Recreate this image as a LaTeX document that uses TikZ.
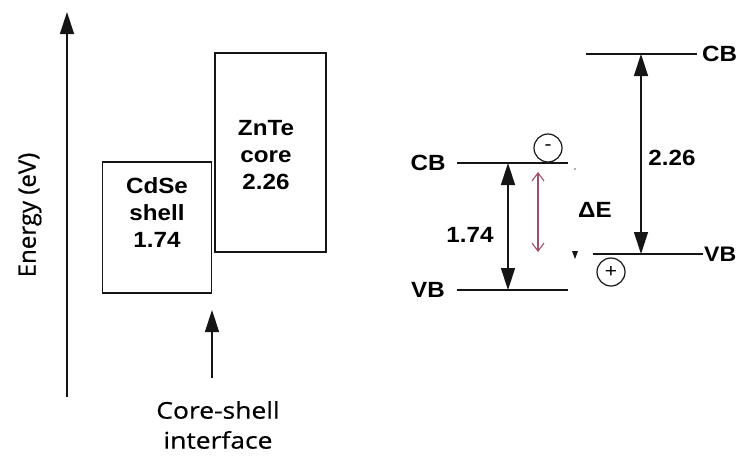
\documentclass[tikz,border=0pt]{standalone}
\usepackage{fontspec}
\setmainfont{Liberation Sans}
\newfontfamily\boldlab[FakeStretch=1.1]{Liberation Sans}
\newfontfamily\softlab[FakeBold=0.6]{Open Sans}
\newfontfamily\softlabwide[FakeStretch=1.15,FakeBold=0.6]{Open Sans}
\usetikzlibrary{arrows.meta,positioning}
\definecolor{Ink}{HTML}{151515}
\definecolor{Rose}{HTML}{A04C6C}

\begin{document}
\begin{tikzpicture}[x=1pt,y=-1pt,
  band/.style={draw=Ink,line width=1.3pt,inner sep=0pt},
  lab/.style={font=\boldlab\bfseries\fontsize{22}{27}\selectfont,align=center,inner sep=1pt},
  note/.style={font=\softlabwide\fontsize{23}{30}\selectfont,align=center,inner sep=1pt},
  level/.style={draw=Ink,line width=1.4pt},
  arr/.style={-{Triangle[length=22pt,width=14pt]},line width=1.4pt,color=Ink},
  gap/.style={{Triangle[length=22pt,width=14pt]}-{Triangle[length=22pt,width=14pt]},line width=1.4pt,color=Ink},
  offsetarr/.style={{Straight Barb[length=8pt,width=12pt]}-{Straight Barb[length=8pt,width=12pt]},line width=1.1pt,color=Rose},
  carrier/.style={circle,draw=Ink,line width=1.2pt,minimum size=28pt,inner sep=0pt,font=\boldlab\fontsize{19}{19}\selectfont}
]
\useasboundingbox (0,0) rectangle (739,456);
% energy axis
\coordinate (ebot) at (67,397);
\coordinate (etop) at (67,12);
\draw[arr] (ebot) -- (etop);
\node[note,rotate=90,font=\softlab\fontsize{24}{30}\selectfont] (energy) at (30,215) {Energy (eV)};
% band boxes
\node[band,minimum width=109pt,minimum height=131pt] (shell) at (157,227.5) {};
\node[band,minimum width=111pt,minimum height=199pt] (core) at (270.5,152.5) {};
\node[lab] (shelltxt) at (157,213) {CdSe\\shell\\1.74};
\node[lab] (coretxt) at (266,155) {ZnTe\\core\\2.26};
% interface marker
\coordinate (ifoot) at (212,378);
\coordinate (itip) at (212,310);
\draw[arr] (ifoot) -- (itip);
\node[note] (iface) at (218,425) {Core-shell\\interface};
% shell levels
\coordinate (cbl) at (457,163);
\coordinate (cbr) at (568,163);
\coordinate (vbl) at (457,290);
\coordinate (vbr) at (568,290);
\draw[level] (cbl) -- (cbr);
\draw[level] (vbl) -- (vbr);
\node[lab] (cbshell) at (428,163) {CB};
\node[lab] (vbshell) at (428,290) {VB};
% core levels
\coordinate (cbcl) at (586,54);
\coordinate (cbcr) at (697,54);
\coordinate (vbcl) at (593,254);
\coordinate (vbcr) at (703,254);
\draw[level] (cbcl) -- (cbcr);
\draw[level] (vbcl) -- (vbcr);
\node[lab,anchor=west] (cbcore) at (701,54) {CB};
\node[lab,anchor=west,inner sep=0pt,font=\boldlab\bfseries\fontsize{21}{27}\selectfont] (vbcore) at (704,254) {VB};
% gaps
\coordinate (g1a) at (508,163);
\coordinate (g1b) at (508,290);
\draw[gap] (g1a) -- (g1b);
\node[lab] (gapshell) at (470,235) {1.74};
\coordinate (g2a) at (641,54);
\coordinate (g2b) at (641,254);
\draw[gap] (g2a) -- (g2b);
\node[lab] (gapcore) at (672,158) {2.26};
% offset
\coordinate (dea) at (538,172);
\coordinate (deb) at (538,252);
\draw[offsetarr] (dea) -- (deb);
\node[lab] (delta) at (595,210) {ΔE};
% carriers
\node[carrier] (elec) at (548,148) {-};
\node[carrier] (hole) at (611,272) {+};
\fill[Ink] (572,251) -- (578,251) -- (575,259) -- cycle;
\fill[Ink!45] (575,169) circle (1.2pt);
\end{tikzpicture}
\end{document}
